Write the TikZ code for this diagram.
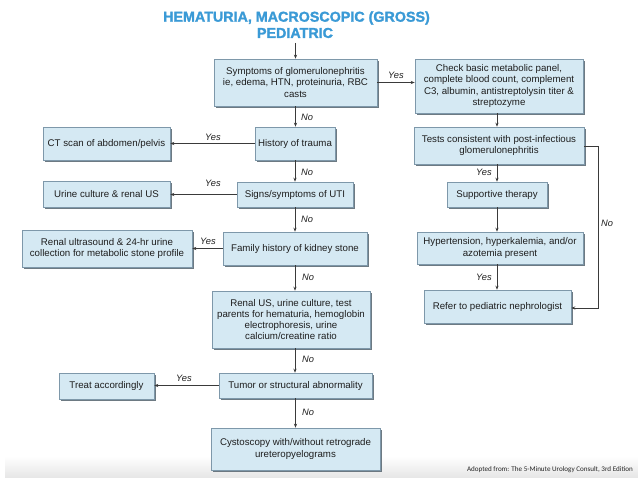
\documentclass[tikz,border=0pt]{standalone}
\usepackage{fontspec}
\setmainfont{Liberation Sans}
\newfontfamily\footfont{Carlito}
\newfontfamily\titfont[FakeBold=1.6]{Liberation Sans Bold}
\usetikzlibrary{arrows.meta,shadows,calc}
\definecolor{boxc}{HTML}{D5E9F3}
\definecolor{bordc}{HTML}{7E98AA}
\definecolor{shadc}{HTML}{5E6C76}
\definecolor{titc}{HTML}{3A9AD6}
\definecolor{linec}{HTML}{3A3A3A}
\definecolor{txtc}{HTML}{1E1E1E}
\tikzset{
  flowbox/.style={draw=bordc, fill=boxc, line width=0.6pt, align=center, inner sep=0pt,
    font=\fontsize{9.7}{11.2}\selectfont, text=txtc,
    drop shadow={shadow xshift=1.8pt, shadow yshift=-1.8pt, fill=shadc, opacity=0.9}},
  conn/.style={draw=linec, line width=0.75pt, -{Stealth[length=4pt,width=3.2pt]}},
  lab/.style={font=\fontsize{9.3}{10}\selectfont\itshape, text=txtc, inner sep=0pt},
  titl/.style={font=\titfont\fontsize{14.3}{16}\selectfont, text=titc, inner sep=0pt}
}
\begin{document}
\begin{tikzpicture}[x=1pt,y=-1pt]
\useasboundingbox (0,0) rectangle (638,478);
\fill[white] (0,0) rectangle (638,478);
\shade[top color=white, bottom color=black!10] (5,456) rectangle (638,478);
% title
\node[titl] (t1) at (296.5,18) {HEMATURIA, MACROSCOPIC (GROSS)};
\node[titl] (t2) at (295,33) {PEDIATRIC};
\coordinate (tstart) at (295.5,43);
% left column
\node[flowbox, minimum width=163pt, minimum height=47pt] (b1) at (295.5,82.5)
  {Symptoms of glomerulonephritis\\ie, edema, HTN, proteinuria, RBC\\casts};
\node[flowbox, minimum width=80pt, minimum height=33pt] (trm) at (295,143.5) {History of trauma};
\node[flowbox, minimum width=127pt, minimum height=33pt] (ct) at (106.5,143.5) {CT scan of abdomen/pelvis};
\node[flowbox, minimum width=116pt, minimum height=25pt] (uti) at (295,194.5) {Signs/symptoms of UTI};
\node[flowbox, minimum width=127pt, minimum height=26pt] (urc) at (106.5,194) {Urine culture \& renal US};
\node[flowbox, minimum width=144pt, minimum height=33pt] (fam) at (295,248.5) {Family history of kidney stone};
\node[flowbox, minimum width=170pt, minimum height=37pt] (rus) at (107,248.5)
  {Renal ultrasound \& 24-hr urine\\collection for metabolic stone profile};
\node[flowbox, minimum width=158pt, minimum height=57pt] (ren) at (291,319.5)
  {Renal US, urine culture, test\\parents for hematuria, hemoglobin\\electrophoresis, urine\\calcium/creatine ratio};
\node[flowbox, minimum width=153pt, minimum height=25pt] (tum) at (295.5,385.5) {Tumor or structural abnormality};
\node[flowbox, minimum width=95pt, minimum height=26pt] (trt) at (106.5,386) {Treat accordingly};
\node[flowbox, minimum width=169pt, minimum height=42pt] (cys) at (295.5,449)
  {Cystoscopy with/without retrograde\\ureteropyelograms};
% right column
\node[flowbox, minimum width=168pt, minimum height=54pt] (chk) at (499,86)
  {Check basic metabolic panel,\\complete blood count, complement\\C3, albumin, antistreptolysin titer \&\\streptozyme};
\node[flowbox, minimum width=170pt, minimum height=37pt] (tst) at (499,145.5)
  {Tests consistent with post-infectious\\glomerulonephritis};
\node[flowbox, minimum width=100pt, minimum height=25pt] (sup) at (497,194.5) {Supportive therapy};
\node[flowbox, minimum width=166pt, minimum height=32pt] (hyp) at (500,248) {Hypertension, hyperkalemia, and/or\\azotemia present};
\node[flowbox, minimum width=147pt, minimum height=33pt] (ref) at (497.5,306.5) {Refer to pediatric nephrologist};
% connectors left
\draw[conn] (tstart) -- (tstart |- b1.north);
\draw[conn] (b1.south) -- (b1.south |- trm.north);
\draw[conn] (trm.west) -- (trm.west -| ct.east);
\draw[conn] (trm.south) -- (trm.south |- uti.north);
\draw[conn] (uti.west) -- (uti.west -| urc.east);
\draw[conn] (uti.south) -- (uti.south |- fam.north);
\draw[conn] (fam.west) -- (fam.west -| rus.east);
\draw[conn] (fam.south) -- (fam.south |- ren.north);
\draw[conn] (ren.south -| fam.south) -- (fam.south |- tum.north);
\draw[conn] (tum.west) -- (tum.west -| trt.east);
\draw[conn] (tum.south) -- (tum.south |- cys.north);
% connectors right
\draw[conn] (b1.east) -- (b1.east -| chk.west);
\draw[conn] (chk.south -| sup.north) -- (sup.north |- tst.north);
\draw[conn] (tst.south -| sup.north) -- (sup.north);
\draw[conn] (sup.south) -- (sup.south |- hyp.north);
\draw[conn] (hyp.south -| sup.south) -- (sup.south |- ref.north);
\coordinate (loopc) at (598,146);
\draw[conn] (tst.east |- loopc) -- (loopc) |- ($(ref.east)+(0,1.5)$);
% labels
\node[lab] (l1) at (396,75) {Yes};
\node[lab] (l2) at (307,117) {No};
\node[lab] (l3) at (213,137) {Yes};
\node[lab] (l4) at (307,172) {No};
\node[lab] (l5) at (213,183) {Yes};
\node[lab] (l6) at (307,219) {No};
\node[lab] (l7) at (208,241) {Yes};
\node[lab] (l8) at (308,277) {No};
\node[lab] (l9) at (308,359) {No};
\node[lab] (l10) at (184,378) {Yes};
\node[lab] (l11) at (308,412) {No};
\node[lab] (l12) at (484,172) {Yes};
\node[lab] (l13) at (484,277) {Yes};
\node[lab] (l14) at (607,223) {No};
% footer
\node[font=\footfont\fontsize{7.1}{8}\selectfont, text=black!85, inner sep=0pt] (foot) at (550,470) {Adopted from: The 5-Minute Urology Consult, 3rd Edition};
\end{tikzpicture}
\end{document}
